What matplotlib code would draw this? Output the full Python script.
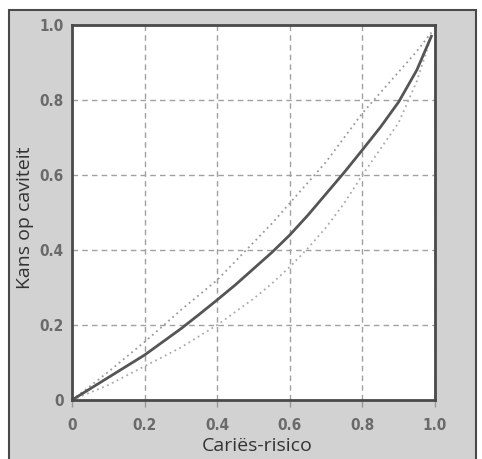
import matplotlib
matplotlib.use("Agg")
import matplotlib.pyplot as plt
from matplotlib.patches import Rectangle

# data
risk = [0.0, 0.05, 0.1, 0.15, 0.2, 0.25, 0.3, 0.35, 0.4, 0.45, 0.5,
        0.55, 0.6, 0.65, 0.7, 0.75, 0.8, 0.85, 0.9, 0.95, 0.99]
prob_mid = [0.0, 0.03, 0.06, 0.09, 0.12, 0.155, 0.19, 0.228, 0.267, 0.307, 0.35,
            0.393, 0.44, 0.493, 0.55, 0.607, 0.667, 0.728, 0.795, 0.88, 0.97]
prob_upper = [0.0, 0.037, 0.075, 0.115, 0.155, 0.197, 0.24, 0.28, 0.32, 0.37, 0.42,
              0.47, 0.525, 0.58, 0.635, 0.70, 0.765, 0.82, 0.875, 0.93, 0.98]
prob_lower = [0.0, 0.02, 0.04, 0.065, 0.09, 0.115, 0.14, 0.17, 0.2, 0.235, 0.27,
              0.31, 0.355, 0.405, 0.46, 0.525, 0.6, 0.67, 0.74, 0.85, 0.97]
ticks = [0.0, 0.2, 0.4, 0.6, 0.8, 1.0]
tick_labels = ["0", "0.2", "0.4", "0.6", "0.8", "1.0"]

fig = plt.figure(figsize=(4.82, 4.59), dpi=100)
fig.patch.set_facecolor("white")
bg = Rectangle((9 / 482, -0.05), (476 - 9) / 482, 1.05 - 10 / 459,
               transform=fig.transFigure, facecolor="#d2d2d2",
               edgecolor="#4a4a4a", linewidth=1.5, zorder=-10)
fig.add_artist(bg)

ax = fig.add_axes([72 / 482, 1 - 400 / 459, (435 - 72) / 482, (400 - 25) / 459])
ax.set_zorder(1)
ax.set_facecolor("white")
ax.plot(risk, prob_upper, color="#9a9a9a", linestyle=(0, (1, 2)), linewidth=1.3)
ax.plot(risk, prob_lower, color="#ababab", linestyle=(0, (1, 2)), linewidth=1.3)
ax.plot(risk, prob_mid, color="#555555", linewidth=2.0)

ax.set_xlim(0, 1)
ax.set_ylim(0, 1)
ax.set_xticks(ticks)
ax.set_yticks(ticks)
ax.set_xticklabels(tick_labels)
ax.set_yticklabels(tick_labels)
ax.grid(True, color="#a0a0a0", linestyle=(0, (4, 3)), linewidth=1.0)
for s in ax.spines.values():
    s.set_color("#4a4a4a")
    s.set_linewidth(2.0)
ax.tick_params(axis="x", direction="out", length=5, color="#999999", width=1,
               labelsize=11, labelcolor="#6a6a6a", pad=8)
ax.tick_params(axis="y", length=0, labelsize=11, labelcolor="#6a6a6a", pad=6)
for lab in ax.get_xticklabels() + ax.get_yticklabels():
    lab.set_fontweight("bold")
    lab.set_fontfamily("DejaVu Sans")
    lab.set_fontstretch("condensed")

fig.text(257 / 482, 1 - 446 / 459, "Cariës-risico", ha="center", va="center",
         fontsize=14, color="#333333", family="Open Sans")
fig.text(25 / 482, 1 - 218 / 459, "Kans op caviteit", ha="center", va="center",
         rotation=90, fontsize=14, color="#333333", family="Open Sans")

fig.savefig("out.png", dpi=100, facecolor=fig.get_facecolor())
